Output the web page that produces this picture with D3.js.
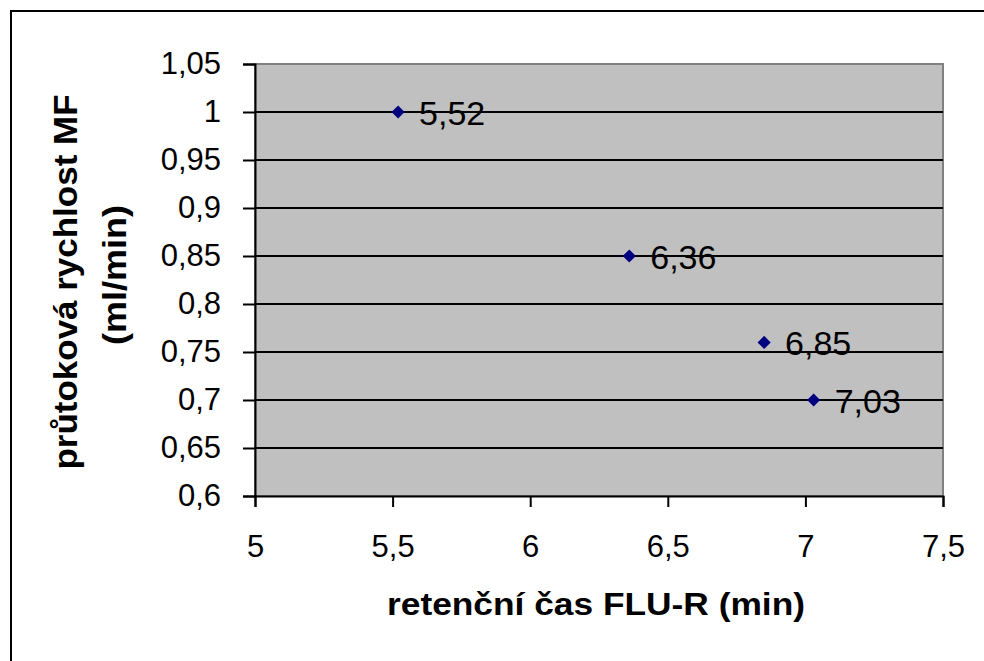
<!DOCTYPE html>
<html>
<head>
<meta charset="utf-8">
<script src="https://cdn.jsdelivr.net/npm/d3@7"></script>
<style>
  body { margin: 0; background: #fff; }
  svg { display: block; }
</style>
</head>
<body>
<div id="chart"></div>
<script>
    // data
    var retTimes = [5.52, 6.36, 6.85, 7.03];
    var flowRates = [1.0, 0.85, 0.76, 0.70];
    var pointLabels = ['5,52', '6,36', '6,85', '7,03'];
    var xTicks = [5, 5.5, 6, 6.5, 7, 7.5];
    var yTicks = [0.6, 0.65, 0.7, 0.75, 0.8, 0.85, 0.9, 0.95, 1, 1.05];

    const width = 984;
    const height = 661;
    const plotLeft = 255;
    const plotRight = 943;
    const plotTop = 64;
    const plotBottom = 496;
    const fontFamily = 'Arial, "Liberation Sans", sans-serif';

    // comma decimal, Czech style
    var fmt = function(v) { return String(v).replace('.', ','); };

    const svg = d3.select('#chart').append('svg')
        .attr('width', width)
        .attr('height', height);

    // outer frame (right and bottom edges fall outside the picture)
    svg.append('rect')
        .attr('x', 11)
        .attr('y', 11)
        .attr('width', 1000)
        .attr('height', 700)
        .attr('fill', 'white')
        .attr('stroke', 'black')
        .attr('stroke-width', 2);

    var x = d3.scaleLinear().domain([5, 7.5]).range([plotLeft, plotRight]);
    var y = d3.scaleLinear().domain([0.6, 1.05]).range([plotBottom, plotTop]);

    // plot area
    svg.append('rect')
        .attr('x', plotLeft)
        .attr('y', plotTop)
        .attr('width', plotRight - plotLeft)
        .attr('height', plotBottom - plotTop)
        .attr('fill', '#c0c0c0')
        .attr('stroke', '#808080')
        .attr('stroke-width', 2);

    // gridlines
    svg.append('g').selectAll('line')
        .data(yTicks.slice(1, -1))
        .enter().append('line')
        .attr('x1', plotLeft)
        .attr('x2', plotRight)
        .attr('y1', d => y(d))
        .attr('y2', d => y(d))
        .attr('stroke', 'black')
        .attr('stroke-width', 2);

    // y axis
    const yAxis = svg.append('g')
        .attr('transform', 'translate(' + plotLeft + ',0)')
        .call(d3.axisLeft(y).tickValues(yTicks).tickFormat(fmt).tickSize(12).tickPadding(22));
    yAxis.select('.domain').attr('stroke', 'black').attr('stroke-width', 2);
    yAxis.selectAll('.tick line').attr('stroke', 'black').attr('stroke-width', 2);
    yAxis.selectAll('.tick text')
        .attr('fill', 'black')
        .attr('font-size', 31)
        .attr('font-family', fontFamily);

    // x axis
    const xAxis = svg.append('g')
        .attr('transform', 'translate(0,' + plotBottom + ')')
        .call(d3.axisBottom(x).tickValues(xTicks).tickFormat(fmt).tickSize(11).tickPadding(28));
    xAxis.select('.domain').attr('stroke', 'black').attr('stroke-width', 2);
    xAxis.selectAll('.tick line').attr('stroke', 'black').attr('stroke-width', 2);
    xAxis.selectAll('.tick text')
        .attr('fill', 'black')
        .attr('font-size', 31)
        .attr('font-family', fontFamily);

    // points
    var points = retTimes.map((t, i) => ({ t: t, f: flowRates[i], label: pointLabels[i] }));

    svg.append('g').selectAll('path')
        .data(points)
        .enter().append('path')
        .attr('transform', d => 'translate(' + x(d.t) + ',' + y(d.f) + ')')
        .attr('d', d3.symbol().type(d3.symbolDiamond2).size(110))
        .attr('fill', '#000080');

    svg.append('g').selectAll('text')
        .data(points)
        .enter().append('text')
        .attr('x', d => x(d.t) + 21)
        .attr('y', d => y(d.f) + 13)
        .text(d => d.label)
        .attr('fill', 'black')
        .attr('font-size', 34)
        .attr('font-family', fontFamily);

    // axis titles
    svg.append('text')
        .attr('x', 596)
        .attr('y', 615)
        .attr('text-anchor', 'middle')
        .attr('textLength', 418)
        .attr('lengthAdjust', 'spacingAndGlyphs')
        .text('retenční čas FLU-R (min)')
        .attr('fill', 'black')
        .attr('font-size', 31)
        .style('font-weight', 'bold')
        .attr('font-family', fontFamily);

    const yTitle = svg.append('text')
        .attr('transform', 'rotate(-90)')
        .attr('text-anchor', 'middle')
        .attr('fill', 'black')
        .attr('font-size', 34)
        .style('font-weight', 'bold')
        .attr('font-family', fontFamily);
    yTitle.append('tspan').attr('x', -282).attr('y', 77)
        .attr('textLength', 375).attr('lengthAdjust', 'spacingAndGlyphs')
        .text('průtoková rychlost MF');
    yTitle.append('tspan').attr('x', -275).attr('y', 126)
        .attr('textLength', 140).attr('lengthAdjust', 'spacingAndGlyphs')
        .text('(ml/min)');
</script>
</body>
</html>
